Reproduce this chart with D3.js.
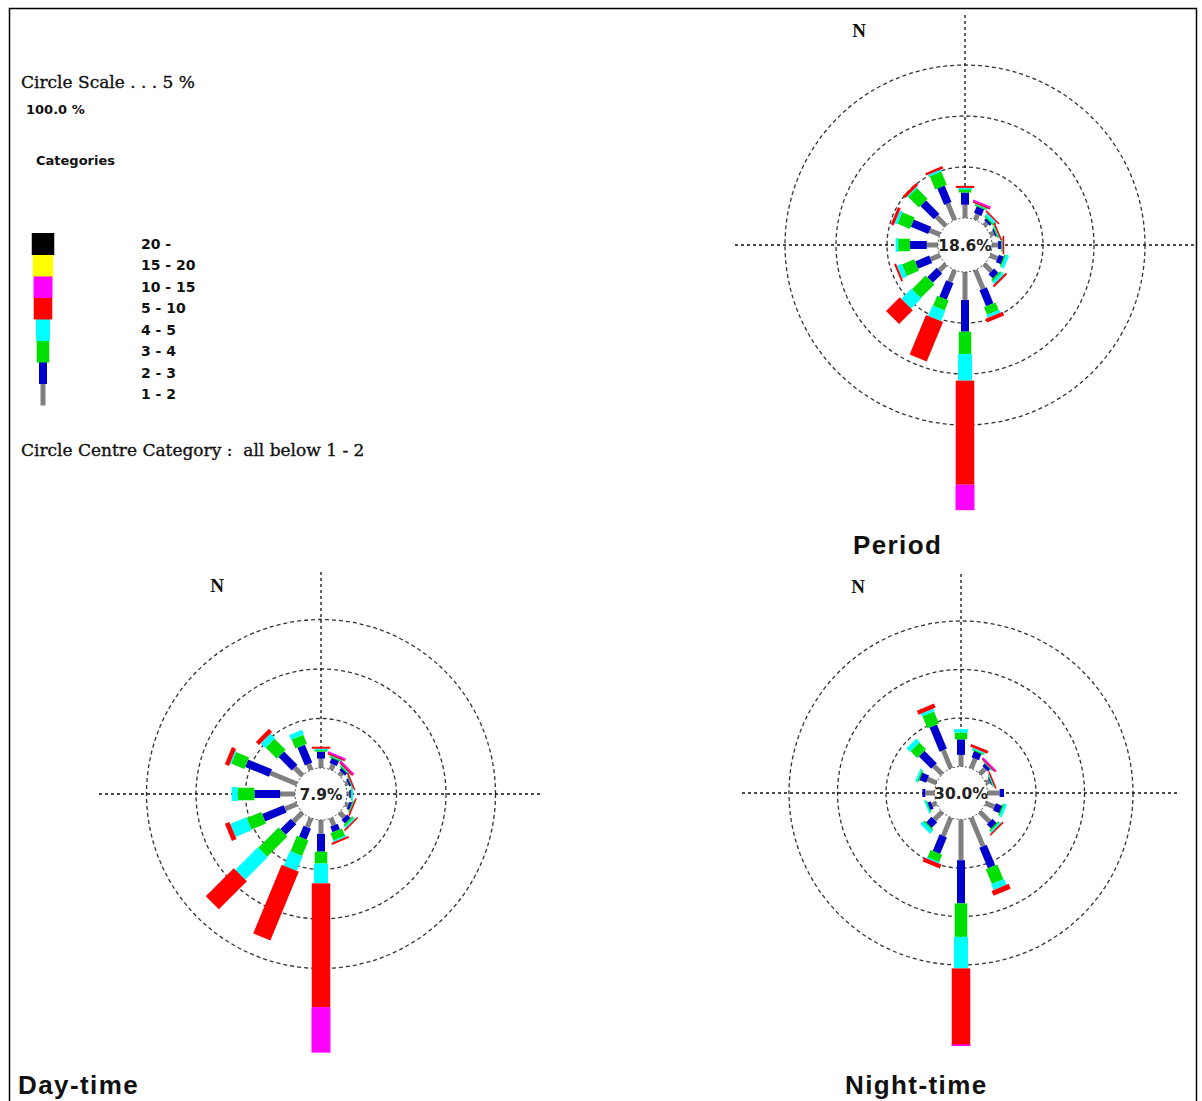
<!DOCTYPE html>
<html>
<head>
<meta charset="utf-8">
<script src="https://cdn.jsdelivr.net/npm/d3@7"></script>
<style>
  body { margin: 0; background: #fff; }
  svg { display: block; }
</style>
</head>
<body>
<div id="chart"></div>
<script>
// wind directions, clockwise from north
var directions = ['N', 'NNE', 'NE', 'ENE', 'E', 'ESE', 'SE', 'SSE', 'S', 'SSW', 'SW', 'WSW', 'W', 'WNW', 'NW', 'NNW'];
// wind speed classes (m/s), innermost first
var categories = ['1 - 2', '2 - 3', '3 - 4', '4 - 5', '5 - 10', '10 - 15', '15 - 20', '20 -'];
var ringValues = [5, 10, 15];

// frequency (%) per direction, one row per speed class
var periodCalm = 18.6;
var periodBands = [
  [1.3, 0.6, 0.4, 0.4, 0.6, 0.8, 1.0, 2.0, 2.75, 1.25, 0.9, 1.0, 1.1, 1.1, 1.3, 1.75],
  [1.2, 0.7, 0.3, 0.2, 0.4, 0.6, 0.6, 1.7, 3.1, 1.75, 1.3, 1.5, 1.65, 1.85, 1.85, 1.75],
  [0.4, 0.15, 0.1, 0.1, 0.05, 0.05, 0.2, 0.8, 2.2, 1.05, 1.9, 1.3, 1.15, 1.3, 1.5, 1.4],
  [0.05, 0.1, 0.3, 0.1, 0.05, 0.3, 0.3, 0.3, 2.6, 1.1, 1.4, 0.5, 0.25, 0.3, 0.1, 0.2],
  [0.2, 0.1, 0.15, 0.1, 0.1, 0, 0.2, 0.4, 10.2, 4.2, 1.9, 0.2, 0, 0.3, 0.3, 0.25],
  [0, 0.15, 0, 0, 0, 0, 0, 0, 2.5, 0, 0, 0, 0, 0, 0, 0],
  [0, 0, 0, 0, 0, 0, 0, 0, 0, 0, 0, 0, 0, 0, 0, 0],
  [0, 0, 0, 0, 0, 0, 0, 0, 0, 0, 0, 0, 0, 0, 0, 0]
];

var dayCalm = 7.9;
var dayBands = [
  [0.95, 0.6, 0.4, 0.3, 0.3, 0.35, 0.7, 0.8, 1.4, 1.0, 1.3, 1.3, 1.5, 2.9, 1.15, 0.65],
  [0.7, 0.6, 0.4, 0.3, 0.1, 0.35, 0.5, 0.6, 1.8, 1.2, 1.5, 2.35, 2.6, 2.6, 1.9, 1.95],
  [0.2, 0.1, 0.05, 0.05, 0.15, 0.05, 0.2, 0.8, 1.2, 1.7, 2.9, 1.6, 1.7, 1.45, 1.6, 1.0],
  [0.1, 0.1, 0.1, 0.05, 0.05, 0.1, 0.2, 0.15, 2.0, 1.6, 3.2, 1.75, 0.6, 0.1, 0.65, 0.5],
  [0.2, 0.1, 0.1, 0.05, 0, 0.05, 0.15, 0.2, 12.5, 7.5, 4.0, 0.5, 0, 0.45, 0.45, 0],
  [0, 0.15, 0.15, 0, 0, 0, 0, 0, 4.6, 0, 0, 0, 0, 0, 0, 0],
  [0, 0, 0, 0, 0, 0, 0, 0, 0, 0, 0, 0, 0, 0, 0, 0],
  [0, 0, 0, 0, 0, 0, 0, 0, 0, 0, 0, 0, 0, 0, 0, 0]
];

var nightCalm = 30.0;
var nightBands = [
  [1.2, 1.1, 0.8, 0.45, 1.25, 1.0, 1.45, 3.2, 4.2, 2.05, 1.15, 0.5, 0.95, 1.0, 1.2, 2.05],
  [1.6, 0.75, 0.45, 0.2, 0.45, 0.8, 0.7, 2.3, 4.45, 1.85, 0.85, 0.45, 0.3, 0.85, 1.8, 2.7],
  [0.7, 0.1, 0.05, 0.05, 0, 0.05, 0.05, 1.65, 3.45, 0.85, 0.1, 0.05, 0, 0.05, 1.0, 1.35],
  [0.35, 0.1, 0.05, 0.05, 0, 0.25, 0.25, 0.65, 3.25, 0.1, 0.4, 0.1, 0, 0.2, 0.5, 0.3],
  [0, 0.3, 0.05, 0.1, 0, 0, 0.1, 0.55, 7.9, 0.45, 0, 0, 0, 0, 0, 0.45],
  [0, 0, 0.1, 0, 0, 0, 0, 0, 0.1, 0, 0, 0, 0, 0, 0, 0],
  [0, 0, 0, 0, 0, 0, 0, 0, 0, 0, 0, 0, 0, 0, 0, 0],
  [0, 0, 0, 0, 0, 0, 0, 0, 0, 0, 0, 0, 0, 0, 0, 0]
];

// styles
var colors = ['#808080', '#0000cd', '#00e000', '#00ffff', '#ff0000', '#ff00ff', '#ffff00', '#000000'];
var barWidths = [5, 8, 12.5, 14, 18.5, 19, 20.5, 22.5];

var width = 1202, height = 1101;

var svg = d3.select('#chart').append('svg')
  .attr('width', width)
  .attr('height', height);

// frame (bottom edge falls just outside the picture)
svg.append('rect')
  .attr('x', 9.5).attr('y', 8.5)
  .attr('width', 1187).attr('height', 1100)
  .attr('fill', 'none')
  .attr('stroke', '#000')
  .attr('stroke-width', 1.5);

var color = d3.scaleOrdinal().domain(categories).range(colors);
var barWidth = d3.scaleOrdinal().domain(categories).range(barWidths);
var angle = d3.scalePoint().domain(directions).range([0, 337.5]);

// ---------- legend ----------
var serif = 'DejaVu Serif, serif';
var sans = 'DejaVu Sans, sans-serif';

function serifText(x, y, s) {
  svg.append('text')
    .attr('x', x).attr('y', y)
    .style('font-family', serif).style('font-size', '17px')
    .style('white-space', 'pre')
    .attr('fill', '#111').attr('stroke', '#111').attr('stroke-width', 0.35)
    .text(s);
}

serifText(21, 88, 'Circle Scale . . . 5 %');

svg.append('text')
  .attr('x', 26).attr('y', 114)
  .style('font-family', sans).style('font-size', '13px').style('font-weight', 'bold').attr('fill', '#111')
  .text('100.0 %');

svg.append('text')
  .attr('x', 36).attr('y', 165)
  .style('font-family', sans).style('font-size', '13px').style('font-weight', 'bold').attr('fill', '#111')
  .text('Categories');

var legendY = d3.scaleBand()
  .domain(categories.slice().reverse())
  .range([233, 405]);

var legend = svg.append('g').attr('class', 'legend');
legend.selectAll('rect')
  .data(categories)
  .enter().append('rect')
    .attr('x', function(d) { return 43 - barWidth(d) / 2; })
    .attr('y', function(d) { return legendY(d); })
    .attr('width', function(d) { return barWidth(d); })
    .attr('height', legendY.bandwidth() + 0.5)
    .attr('fill', function(d) { return color(d); });

legend.selectAll('text')
  .data(categories)
  .enter().append('text')
    .attr('x', 141)
    .attr('y', function(d) { return legendY(d) + legendY.bandwidth() / 2 + 5; })
    .style('font-family', sans).style('font-size', '14px').style('font-weight', 'bold')
    .attr('fill', '#111')
    .text(function(d) { return d; });

serifText(21, 456, 'Circle Centre Category :  all below 1 - 2');

// ---------- roses ----------
function drawRose(opts) {
  var g = svg.append('g').attr('transform', 'translate(' + opts.cx + ',' + opts.cy + ')');

  // radius: calm circle edge at 0 %, one ring step per 5 %
  var r = d3.scaleLinear().domain([0, 5]).range([opts.r0, opts.r0 + opts.step]);

  g.selectAll('circle.ring')
    .data(ringValues)
    .enter().append('circle')
      .attr('class', 'ring')
      .attr('r', function(d) { return r(d); })
      .attr('fill', 'none')
      .attr('stroke', '#333')
      .attr('stroke-width', 1.3)
      .attr('stroke-dasharray', '4,3');

  var L = opts.cross;
  g.append('line').attr('x1', -L).attr('x2', L).attr('y1', 0).attr('y2', 0);
  g.append('line').attr('x1', 0).attr('x2', 0).attr('y1', -L).attr('y2', L);
  g.selectAll('line')
    .attr('stroke', '#111')
    .attr('stroke-width', 1.3)
    .attr('stroke-dasharray', '3,3');

  var rows = directions.map(function(dir, i) {
    var row = { dir: dir };
    categories.forEach(function(c, k) { row[c] = opts.bands[k][i]; });
    return row;
  });
  var stacked = d3.stack().keys(categories)(rows);

  stacked.forEach(function(series) {
    var cat = series.key;
    var w = barWidth(cat);
    g.append('g').attr('class', 'band')
      .selectAll('rect')
      .data(series.filter(function(d) { return d[1] - d[0] > 0; }))
      .enter().append('rect')
        .attr('transform', function(d) { return 'rotate(' + angle(d.data.dir) + ')'; })
        .attr('x', -w / 2)
        .attr('y', function(d) { return -r(d[1]); })
        .attr('width', w)
        .attr('height', function(d) { return Math.max(1.6, r(d[1]) - r(d[0])); })
        .attr('fill', color(cat));
  });

  g.append('circle')
    .attr('r', opts.r0)
    .attr('fill', '#fff')
    .attr('stroke', '#444')
    .attr('stroke-width', 1)
    .attr('stroke-dasharray', '2,2');

  g.append('text')
    .attr('y', 5.5)
    .attr('text-anchor', 'middle')
    .style('font-family', sans).style('font-size', '15.5px').style('font-weight', 'bold')
    .attr('fill', '#222')
    .text(opts.calm.toFixed(1) + '%');

  svg.append('text')
    .attr('x', opts.nx).attr('y', opts.ny)
    .attr('text-anchor', 'middle')
    .style('font-family', 'Liberation Serif, serif').style('font-size', '19px').style('font-weight', 'bold')
    .attr('fill', '#111')
    .text('N');

  svg.append('text')
    .attr('x', opts.tx).attr('y', opts.ty)
    .style('font-family', 'Liberation Sans, Arial, sans-serif').style('font-size', '26px').style('font-weight', 'bold')
    .style('letter-spacing', '1.4px')
    .attr('fill', '#111')
    .text(opts.title);
}

drawRose({ bands: periodBands, calm: periodCalm, cx: 965, cy: 245, r0: 27, step: 51, cross: 230,
  nx: 859, ny: 37, title: 'Period', tx: 853, ty: 554 });
drawRose({ bands: dayBands, calm: dayCalm, cx: 321, cy: 794, r0: 26, step: 49.5, cross: 222,
  nx: 217, ny: 592, title: 'Day-time', tx: 18, ty: 1094 });
drawRose({ bands: nightBands, calm: nightCalm, cx: 961, cy: 793, r0: 26.5, step: 48.5, cross: 219,
  nx: 858, ny: 593, title: 'Night-time', tx: 845, ty: 1094 });
</script>
</body>
</html>
